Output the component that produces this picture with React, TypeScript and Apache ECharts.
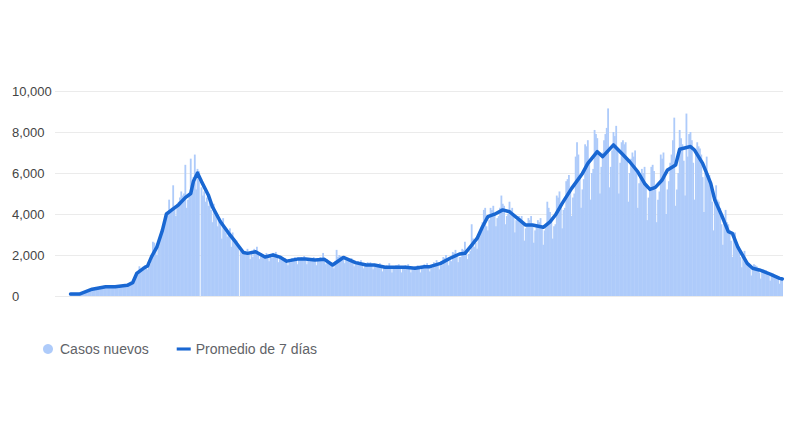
import React, { useEffect, useRef } from "react";
import * as echarts from "echarts";

// Daily new cases, one value per day (weeks of 7 days per row)
const dailyCases: number[] = [
  0, 0, 0, 0, 0, 0, 0,
  0, 0, 0, 0, 70, 100, 130,
  80, 100, 120, 110, 90, 130, 150,
  180, 220, 260, 300, 240, 270, 300,
  330, 350, 400, 420, 380, 360, 410,
  430, 470, 480, 440, 420, 460, 490,
  440, 460, 470, 430, 410, 450, 480,
  480, 500, 530, 520, 490, 510, 560,
  620, 700, 850, 1000, 1100, 1200, 1450,
  1300, 1250, 1400, 1500, 1350, 1300, 1550,
  1550, 1700, 2650, 2600, 2300, 2000, 2400,
  2700, 2900, 3200, 3400, 3700, 3900, 4100,
  4700, 4100, 4300, 5400, 4400, 3900, 4500,
  4600, 4800, 5100, 4900, 5000, 6400, 4300,
  4700, 5000, 6700, 5100, 5800, 6900, 5200,
  6200, 6100, 0, 5300, 4900, 5100, 4600,
  4800, 4400, 4700, 4200, 3600, 4500, 4100,
  3900, 3400, 3700, 3500, 2800, 3800, 3300,
  3100, 2900, 3000, 3300, 2400, 3100, 2700,
  2600, 2700, 2500, 0, 2300, 2200, 2100,
  2200, 2000, 2300, 2100, 1800, 2200, 1900,
  2300, 2150, 2400, 2000, 1800, 2100, 1950,
  2000, 1900, 2100, 1950, 1700, 2050, 1850,
  2100, 2000, 2150, 1900, 1650, 1950, 1800,
  1800, 1750, 1850, 1700, 1500, 1800, 1650,
  1850, 1800, 1900, 1750, 1550, 1850, 1750,
  1900, 1850, 1950, 1750, 1550, 1850, 1700,
  1850, 1800, 1900, 1700, 1500, 1800, 1750,
  1900, 1850, 2100, 1750, 1550, 1800, 1700,
  1650, 1550, 1450, 1350, 1700, 2250, 1900,
  2000, 1950, 1850, 1800, 1600, 1750, 1700,
  1800, 1750, 1850, 1650, 1450, 1700, 1600,
  1700, 1650, 1750, 1550, 1350, 1600, 1500,
  1650, 1600, 1650, 1500, 1300, 1500, 1450,
  1550, 1500, 1600, 1400, 1200, 1450, 1400,
  1500, 1450, 1600, 1400, 1150, 1400, 1350,
  1500, 1500, 1550, 1400, 1150, 1400, 1350,
  1500, 1450, 1550, 1350, 1150, 1350, 1300,
  1450, 1450, 1500, 1350, 1150, 1400, 1350,
  1550, 1500, 1600, 1400, 1200, 1450, 1400,
  1650, 1600, 1750, 1500, 1300, 1550, 1500,
  1900, 1850, 2000, 1750, 1500, 1750, 1700,
  2150, 2100, 2250, 1950, 1650, 1900, 1900,
  2300, 2250, 2650, 2100, 1800, 2050, 2200,
  3500, 2800, 2400, 2600, 2300, 2900, 3100,
  3300, 3600, 4200, 4300, 3400, 3200, 3700,
  4300, 4200, 4400, 4000, 3400, 3800, 3900,
  4300, 4900, 4500, 4400, 3500, 3900, 4000,
  4600, 4200, 4300, 3900, 3100, 3700, 3900,
  3900, 3800, 3900, 3500, 2700, 3300, 3500,
  3800, 3700, 3900, 3400, 2600, 3200, 3450,
  3700, 3600, 3800, 3300, 2500, 3200, 3500,
  4600, 4300, 4100, 3700, 2800, 3400, 3500,
  4900, 4800, 5100, 4400, 3300, 4200, 4300,
  5600, 5700, 5900, 5100, 3900, 4800, 5000,
  6800, 7500, 6900, 5900, 4300, 5200, 5700,
  7400, 7300, 7600, 6500, 4700, 6000, 6200,
  8100, 7900, 7700, 7000, 5000, 6300, 7000,
  7600, 7900, 8200, 9150, 5300, 6300, 7100,
  8000, 7800, 8300, 7100, 5000, 6500, 7500,
  7600, 7400, 7500, 6600, 4600, 6000, 6700,
  7000, 6800, 7100, 6100, 4300, 5500, 6000,
  6200, 6000, 6300, 5400, 3700, 4800, 5300,
  6300, 6400, 6100, 5200, 3600, 4700, 5100,
  6900, 6700, 7000, 5800, 4000, 5200, 5600,
  6500, 6900, 7600, 8700, 4400, 5200, 6000,
  8100, 7700, 7400, 6600, 4900, 8900, 6800,
  7900, 8000, 7600, 6500, 4700, 7000, 7500,
  7300, 7200, 6900, 5800, 4100, 6000, 6800,
  6000, 5900, 5500, 4600, 3200, 4700, 5400,
  4700, 4600, 4300, 3500, 2500, 3700, 4200,
  3600, 3500, 3200, 2700, 1900, 2800, 3100,
  2600, 2500, 2300, 1900, 1400, 2000, 2200,
  1750, 1700, 1600, 1350, 1000, 1400, 1550,
  1500, 1450, 1350, 1150, 850, 1200, 1300,
  1250, 1250, 1150, 1000, 750, 1000, 1100,
  1050, 1000, 950, 800, 600, 850, 900,
];

// 7-day average, read at day indices
const avgDays: number[] = [
  11, 18, 27, 37, 44, 53, 57, 60, 65, 68, 71, 75, 79, 82, 86, 91, 96, 100, 102, 105,
  108, 113, 116, 122, 128, 133, 139, 142, 148, 155, 161, 166, 171, 179, 185, 192, 199, 205, 213, 222,
  230, 236, 244, 251, 259, 266, 273, 277, 285, 292, 299, 303, 307, 312, 316, 320, 325, 331, 336, 342,
  348, 353, 361, 366, 370, 375, 382, 390, 394, 401, 405, 413, 419, 425, 431, 436, 440, 444, 449, 453,
  459, 462, 470, 473, 479, 485, 488, 493, 498, 501, 505, 512, 516, 521, 529, 536, 538,
];
const avgValues: number[] = [
  100, 100, 330, 450, 450, 520, 650, 1100, 1350, 1460, 1920, 2400, 3200, 4000, 4200, 4450, 4800, 5000, 5600, 6000,
  5580, 4930, 4360, 3620, 3070, 2650, 2120, 2080, 2160, 1900, 2000, 1900, 1700, 1800, 1800, 1760, 1790, 1510, 1880, 1630,
  1510, 1510, 1400, 1400, 1400, 1350, 1430, 1430, 1590, 1840, 2050, 2080, 2400, 2810, 3380, 3870, 3990, 4200, 4110, 3790,
  3460, 3460, 3350, 3620, 3950, 4520, 5250, 5980, 6470, 7040, 6800, 7370, 6960, 6550, 6060, 5490, 5200, 5300, 5660, 6150,
  6390, 7160, 7290, 7120, 6470, 5490, 4680, 3950, 3140, 3060, 2400, 1590, 1350, 1270, 1070, 860, 830,
];

const yTicks: number[] = [0, 2000, 4000, 6000, 8000, 10000];
const seriesNames: string[] = ["Casos nuevos", "Promedio de 7 días"];

const BAR_COLOR = "#aecbfa";
const LINE_COLOR = "#1967d2";
const FONT = "Arial, 'Liberation Sans', sans-serif";

export default function App() {
  const ref = useRef<HTMLDivElement>(null);

  useEffect(() => {
    if (!ref.current) return;
    const chart = echarts.init(ref.current, undefined, { renderer: "svg" });
    const categories = dailyCases.map((_, i) => String(i));
    const lineData = avgDays.map((d, i) => [d, avgValues[i]]);

    chart.setOption({
      animation: false,
      backgroundColor: "#ffffff",
      textStyle: { fontFamily: FONT },
      grid: { left: 55, right: 17, top: 91, bottom: 144, containLabel: false },
      legend: {
        left: 38,
        top: 337,
        itemWidth: 14,
        itemHeight: 10,
        itemGap: 28,
        symbolKeepAspect: true,
        textStyle: { fontSize: 14, color: "#5f6368", fontFamily: FONT },
        data: [
          { name: seriesNames[0], icon: "circle", itemStyle: { color: BAR_COLOR } },
          { name: seriesNames[1], icon: "path://M0,0 H50 V11 H0 Z", itemStyle: { color: LINE_COLOR } },
        ],
      },
      xAxis: {
        type: "category",
        data: categories,
        boundaryGap: true,
        axisLine: { show: false },
        axisTick: { show: false },
        axisLabel: { show: false },
        splitLine: { show: false },
      },
      yAxis: {
        type: "value",
        min: yTicks[0],
        max: yTicks[yTicks.length - 1],
        interval: yTicks[1] - yTicks[0],
        axisLine: { show: false },
        axisTick: { show: false },
        splitLine: { lineStyle: { color: "#ebebeb", width: 1 } },
        axisLabel: {
          align: "left",
          margin: 43,
          fontSize: 13,
          color: "#444444",
          fontFamily: FONT,
          formatter: (v: number) => v.toLocaleString("en-US"),
        },
      },
      series: [
        {
          name: seriesNames[0],
          type: "bar",
          data: dailyCases,
          barWidth: "135%",
          itemStyle: { color: BAR_COLOR },
          emphasis: { disabled: true },
          z: 1,
        },
        {
          name: seriesNames[1],
          type: "line",
          data: lineData,
          symbol: "none",
          showSymbol: false,
          lineStyle: { color: LINE_COLOR, width: 3.5, join: "round", cap: "round" },
          itemStyle: { color: LINE_COLOR },
          emphasis: { disabled: true },
          z: 3,
        },
      ],
    });

    return () => {
      chart.dispose();
    };
  }, []);

  return (
    <div
      ref={ref}
      style={{ position: "absolute", left: 0, top: 0, width: 800, height: 440 }}
    />
  );
}
